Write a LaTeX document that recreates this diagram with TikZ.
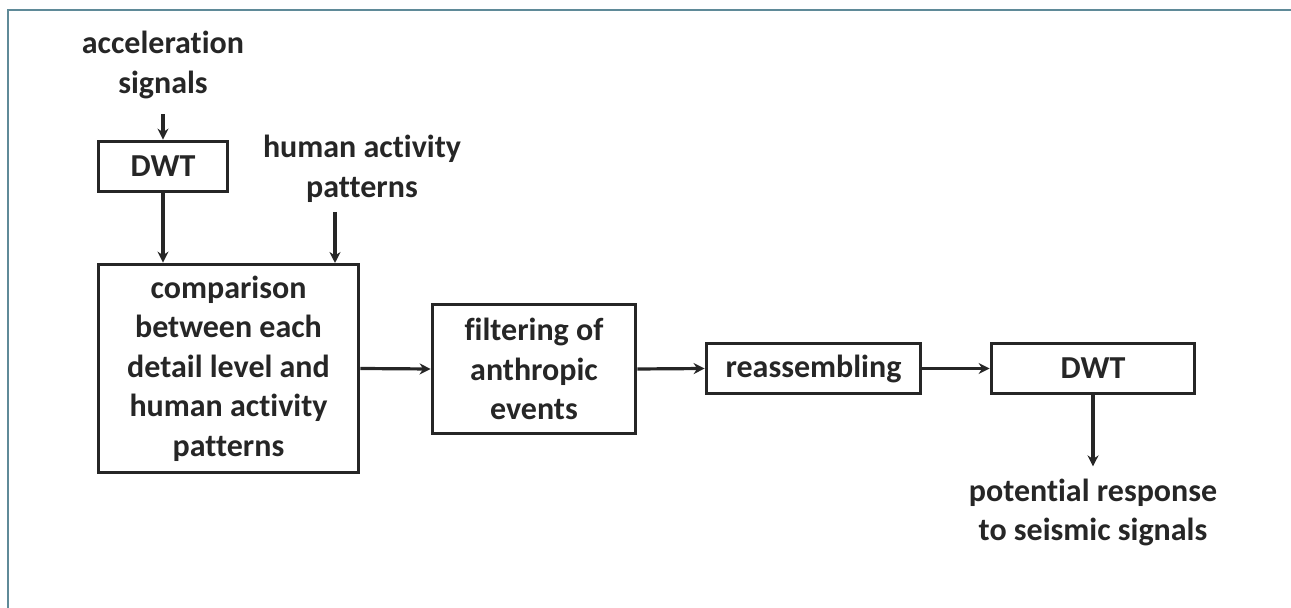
\documentclass[tikz,border=0pt]{standalone}
\usepackage{fontspec}
\setmainfont{Carlito}[Ligatures=NoCommon]
\usetikzlibrary{arrows.meta}
\begin{document}
\begin{tikzpicture}[x=0.5pt,y=-0.5pt]
            \tikzstyle{block}=[draw=black!85,line width=1.9pt,text=black!85,align=center,inner sep=0pt,font=\fontsize{16}{19.75}\selectfont\bfseries]
            \tikzstyle{io}=[text=black!85,align=center,inner sep=0pt,font=\fontsize{16}{19.75}\selectfont\bfseries]
            \tikzstyle{edge}=[draw=black!85,line width=1.6pt,-{Stealth[length=5.5pt,width=5.5pt]}]
            \definecolor{framecol}{RGB}{95,138,152}
            \useasboundingbox (0,0) rectangle (1291,608);
            \draw[framecol,line width=1pt] (8,608) -- (8,10) -- (1291,10);
            \begin{scope}
               \node [io] (acc) at (163,65) {acceleration\\signals};
               \node [block,minimum width=64.5pt,minimum height=25pt] (dwt1) at (163,166.5) {DWT};
               \node [io] (hum) at (362,169) {human activity\\patterns};
               \node [block,minimum width=130pt,minimum height=104pt] (cmp) at (228.5,368.5) {comparison\\between each\\detail level and\\human activity\\patterns};
               \node [block,minimum width=101.5pt,minimum height=64.5pt] (filt) at (534,369) {filtering of\\anthropic\\events};
               \node [block,minimum width=107pt,minimum height=25pt] (reas) at (813.5,368.5) {reassembling};
               \node [block,minimum width=101.5pt,minimum height=25pt] (dwt2) at (1093,368.5) {DWT};
               \node [io] (resp) at (1093,512.5) {potential response\\to seismic signals};
               \coordinate (humin) at (335,263);
               \path (acc) edge [edge,shorten <=7.5pt] (dwt1);
               \path (dwt1) edge [edge] (dwt1 |- cmp.north);
               \path (humin |- hum.south) edge [edge,shorten <=4.5pt] (humin);
               \path (cmp.east) edge [edge] (filt.west);
               \path (filt.east) edge [edge] (reas.west);
               \path (reas) edge [edge] (dwt2);
               \path (dwt2) edge [edge,shorten >=6pt] (resp);
            \end{scope}
\end{tikzpicture}
\end{document}
